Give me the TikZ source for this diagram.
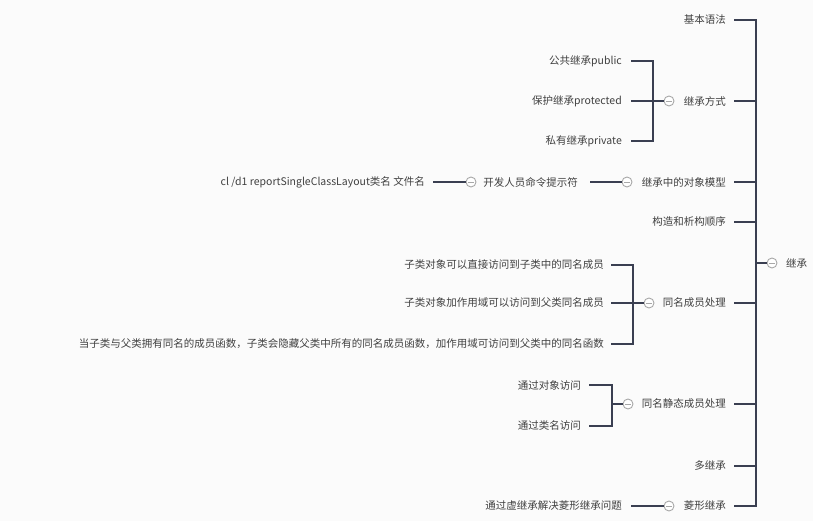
\documentclass[tikz,border=0pt]{standalone}
\usepackage{fontspec}
\setmainfont{Noto Sans CJK SC}
\definecolor{bgcol}{HTML}{FBFBFB}
\definecolor{linecol}{HTML}{3A3F51}
\definecolor{textcol}{HTML}{404040}
\definecolor{foldgray}{HTML}{A8A8A8}
\tikzset{
  topic/.style={font=\fontsize{10.5}{12}\selectfont, text=textcol, inner sep=0pt, anchor=east},
  fold/.style={circle, draw=foldgray, fill=white, line width=0.9pt, minimum size=10pt, inner sep=0pt,
    path picture={\draw[foldgray, line width=0.9pt]
      ([xshift=-2.8pt]path picture bounding box.center) -- ([xshift=2.8pt]path picture bounding box.center);}},
  branch/.style={draw=linecol, line width=1.5pt, line join=miter},
  stem/.style={draw=linecol, line width=2.4pt},
}
\begin{document}
\begin{tikzpicture}[x=1pt, y=-1pt]
    \useasboundingbox (0,0) rectangle (813,521);
    \fill[bgcol] (0,0) rectangle (813,521);

    % root
    \node[fold] (croot) at (772,263) {};
    \node[topic, anchor=west] (root) at (786,263) {继承};

    % first level
    \node[topic] (jbyf) at (726,20) {基本语法};
    \node[topic] (jcfs) at (726,101) {继承方式};
    \node[topic] (dxmx) at (726,182) {继承中的对象模型};
    \node[topic] (gzxg) at (726,222) {构造和析构顺序};
    \node[topic] (tmcy) at (726,303) {同名成员处理};
    \node[topic] (tmjt) at (726,404) {同名静态成员处理};
    \node[topic] (djc)  at (726,466) {多继承};
    \node[topic] (lxjc) at (726,506) {菱形继承};

    \node[fold] (cjcfs) at (669,101) {};
    \node[fold] (cdxmx) at (627,182) {};
    \node[fold] (ctmcy) at (649,303) {};
    \node[fold] (ctmjt) at (628,404) {};
    \node[fold] (clxjc) at (669,506) {};

    % second level
    \node[topic] (pub)  at (622,61)  {公共继承public};
    \node[topic] (prot) at (622,101) {保护继承protected};
    \node[topic] (priv) at (622,141) {私有继承private};

    \node[topic] (kfry) at (578,182) {开发人员命令提示符};
    \node[fold] (ckfry) at (471,182) {};
    \node[topic] (cldl) at (425,182) {cl /d1 reportSingleClassLayout类名 文件名};

    \node[topic] (zlzj) at (604,265) {子类对象可以直接访问到子类中的同名成员};
    \node[topic] (zljz) at (604,303) {子类对象加作用域可以访问到父类同名成员};
    \node[topic] (zlyc) at (604,344) {当子类与父类拥有同名的成员函数，子类会隐藏父类中所有的同名成员函数，加作用域可访问到父类中的同名函数};

    \node[topic] (tgdx) at (581,385) {通过对象访问};
    \node[topic] (tglm) at (581,426) {通过类名访问};

    \node[topic] (xjc)  at (622,506) {通过虚继承解决菱形继承问题};

    % main branches
    \foreach \n in {jbyf,jcfs,dxmx,gzxg,tmcy,tmjt,djc,lxjc}
        \draw[branch] ([xshift=8]\n.east) -- ++(22,0) |- (croot.west);
    \draw[stem] (croot.west) -- ++(-11,0);

    % 继承方式
    \foreach \n in {pub,prot,priv}
        \draw[branch] ([xshift=9]\n.east) -- ++(22,0) |- (cjcfs.west);
    \draw[stem] (cjcfs.west) -- ++(-11,0);

    % 对象模型
    \draw[branch] ([xshift=12]kfry.east) -- (cdxmx.west);
    \draw[branch] ([xshift=8]cldl.east) -- (ckfry.west);

    % 同名成员处理
    \foreach \n in {zlzj,zljz,zlyc}
        \draw[branch] ([xshift=7]\n.east) -- ++(22,0) |- (ctmcy.west);
    \draw[stem] (ctmcy.west) -- ++(-11,0);

    % 同名静态成员处理
    \foreach \n in {tgdx,tglm}
        \draw[branch] ([xshift=8]\n.east) -- ++(23,0) |- (ctmjt.west);
    \draw[stem] (ctmjt.west) -- ++(-11,0);

    % 菱形继承
    \draw[branch] ([xshift=9]xjc.east) -- (clxjc.west);
\end{tikzpicture}
\end{document}
